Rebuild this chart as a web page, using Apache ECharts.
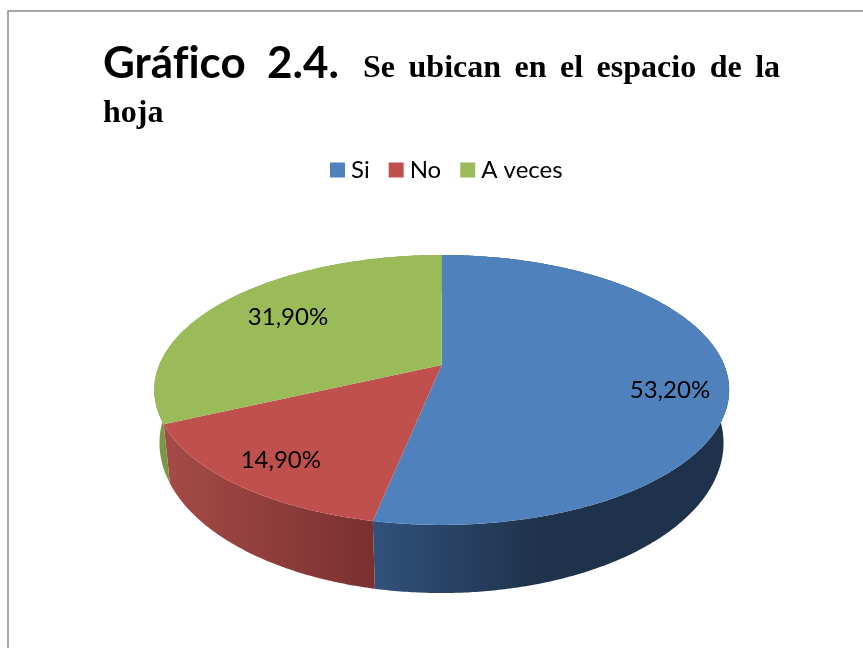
<!DOCTYPE html>
<html>
<head>
<meta charset="utf-8">
<style>html,body{margin:0;padding:0;background:#fff}#c{width:863px;height:648px}</style>
<script src="https://cdn.jsdelivr.net/npm/echarts@6/dist/echarts.min.js"></script>
</head>
<body>
<div id="c"></div>
<script>
const categories = ['Si', 'No', 'A veces'];
const sliceValues = [53.2, 14.9, 31.9];
const topColors = ['#4f81bd', '#c0504d', '#9bbb59'];
const wallColors = [
  [[374, '#31517a'], [540, '#1f324b']],
  [[165, '#a54b48'], [374, '#7a302f']],
  [[150, '#7f9b47'], [175, '#7a9443']]
];
const labelRadius = [0.8, 0.81, 0.69];
const labelShift = [15, 1, -2];

// perspective projection of the pie's disc: top face and bottom face
const topPlane = {cx: 441.7, d: 282.5, b: 365, a: -62.8, c: 0.185};
const lowPlane = {cx: 441.5, d: 277.9, b: 417.5, a: -74.7, c: 0.17};
function project(plane, deg, r) {
  const t = deg * Math.PI / 180, u = r * Math.sin(t), v = r * Math.cos(t);
  const w = 1 + plane.c * v;
  return [plane.cx + plane.d * u / w, (plane.b + plane.a * v) / w];
}
const total = sliceValues.reduce((s, v) => s + v, 0);
function startOf(i) {
  let s = 0;
  for (let k = 0; k < i; k++) s += sliceValues[k];
  return s / total * 360;
}
function arc(plane, a0, a1) {
  const n = Math.max(2, Math.ceil((a1 - a0) * 2)), pts = [];
  for (let k = 0; k <= n; k++) pts.push(project(plane, a0 + (a1 - a0) * k / n, 1));
  return pts;
}
function makeSeries(i) {
  return {
    type: 'custom',
    name: categories[i],
    coordinateSystem: 'none',
    itemStyle: {color: topColors[i]},
    silent: true,
    animation: false,
    data: [sliceValues[i]],
    renderItem: function (params, api) {
      const value = api.value(0);
      const a0 = startOf(i), a1 = a0 + value / total * 360;
      const top = arc(topPlane, a0, a1), low = arc(lowPlane, a0, a1);
      const stops = wallColors[i];
      const grad = new echarts.graphic.LinearGradient(stops[0][0], 0, stops[1][0], 0, [
        {offset: 0, color: stops[0][1]}, {offset: 1, color: stops[1][1]}
      ], true);
      const mid = (a0 + a1) / 2;
      const lp = project(topPlane, mid, labelRadius[i]);
      return {
        type: 'group',
        children: [
          {type: 'polygon', z2: 1, shape: {points: top.concat(low.slice().reverse())}, style: {fill: grad}},
          {type: 'polygon', z2: 5, shape: {points: [project(topPlane, 0, 0)].concat(top)}, style: {fill: topColors[i]}},
          {type: 'text', z2: 10, style: {
            text: value.toFixed(2).replace('.', ',') + '%',
            x: lp[0], y: lp[1] + labelShift[i],
            fill: '#000', font: '24px Lato', align: 'center', verticalAlign: 'middle'
          }}
        ]
      };
    }
  };
}
const serif = {fontFamily: 'Liberation Serif', fontWeight: 'bold', color: '#000'};
const chart = echarts.init(document.getElementById('c'), null, {renderer: 'canvas'});
chart.setOption({
  animation: false,
  backgroundColor: '#fff',
  title: {
    left: 98, top: 37,
    text: '{a|Gráf}{a|ico  2.4.}{b|   }{b|Se}{s|  }{b|ubican}{s|  }{b|en}{s|  }{b|el}{s|  }{b|espacio}{s|  }{b|de}{s|  }{b|la}\n{h|hoja}',
    textStyle: {
      rich: {
        a: {fontFamily: 'Lato', fontWeight: 'bold', fontSize: 44, color: '#000', lineHeight: 43},
        b: Object.assign({fontSize: 32, lineHeight: 32, verticalAlign: 'bottom'}, serif),
        s: Object.assign({fontSize: 27, lineHeight: 32, verticalAlign: 'bottom'}, serif),
        h: Object.assign({fontSize: 32, lineHeight: 57}, serif)
      }
    }
  },
  legend: {
    data: categories,
    top: 153,
    left: 325,
    icon: 'rect',
    itemWidth: 15, itemHeight: 15, itemGap: 19,
    selectedMode: false,
    textStyle: {fontFamily: 'Lato', fontSize: 24, color: '#000', padding: [0, 0, 0, 1]}
  },
  graphic: [
    {type: 'polyline', silent: true, shape: {points: [[8, 648], [8, 11], [863, 11]]}, style: {stroke: '#8c8c8c', lineWidth: 1.5, fill: null}}
  ],
  series: categories.map((c, i) => makeSeries(i))
});
</script>
</body>
</html>
